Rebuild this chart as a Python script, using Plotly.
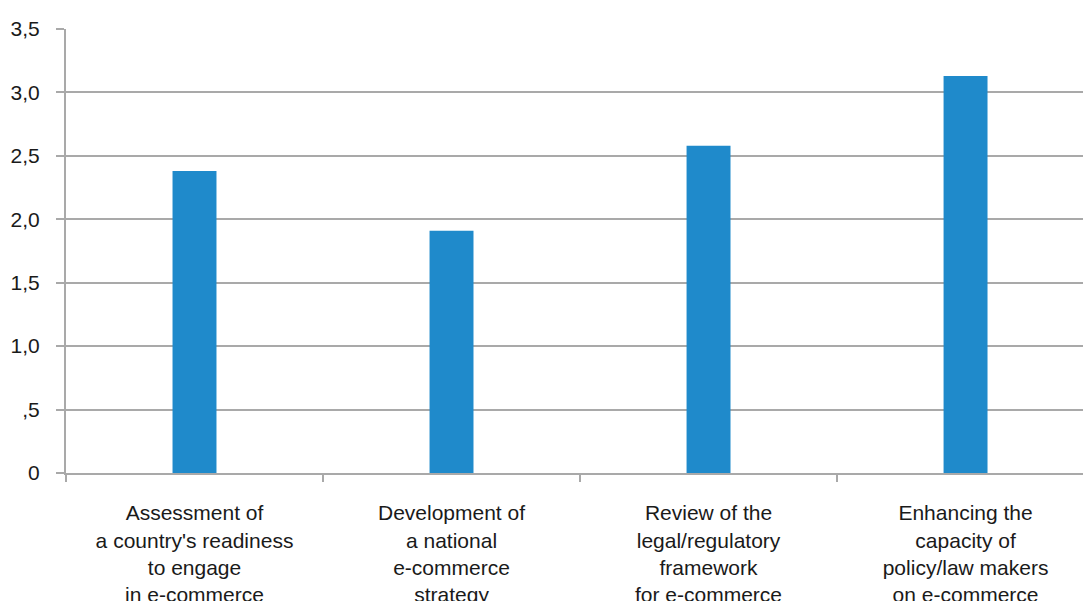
import plotly.graph_objects as go

# Capacity-building areas and their mean scores
categories = [
    "Assessment of<br>a country's readiness<br>to engage<br>in e-commerce",
    "Development of<br>a national<br>e-commerce<br>strategy",
    "Review of the<br>legal/regulatory<br>framework<br>for e-commerce",
    "Enhancing the<br>capacity of<br>policy/law makers<br>on e-commerce",
]
scores = [2.38, 1.91, 2.58, 3.13]

y_tickvals = [0, 0.5, 1.0, 1.5, 2.0, 2.5, 3.0, 3.5]
y_ticktext = ["0", ",5", "1,0", "1,5", "2,0", "2,5", "3,0", "3,5"]

BAR_COLOR = "#1f8acb"
GRID_COLOR = "#a9a9a9"
FONT = "Liberation Sans, Arial, Helvetica, sans-serif"

fig = go.Figure(
    go.Bar(
        x=categories,
        y=scores,
        marker=dict(color=BAR_COLOR, line=dict(width=0)),
        hoverinfo="skip",
    )
)

fig.update_layout(
    width=1083,
    height=601,
    margin=dict(l=66, r=0, t=29, b=128, autoexpand=False),
    paper_bgcolor="white",
    plot_bgcolor="white",
    bargap=0.829,
    showlegend=False,
    font=dict(family=FONT, size=21, color="#1a1a1a"),
)

fig.update_xaxes(
    type="category",
    range=[-0.5, 3.457],
    showgrid=False,
    zeroline=False,
    showline=True,
    linecolor=GRID_COLOR,
    linewidth=2,
    ticks="outside",
    tickson="boundaries",
    ticklen=7,
    tickwidth=2,
    tickcolor=GRID_COLOR,
    ticklabelstandoff=20,
    automargin=False,
    tickangle=0,
)

fig.update_yaxes(
    range=[0, 3.5],
    tickmode="array",
    tickvals=y_tickvals,
    ticktext=y_ticktext,
    showgrid=True,
    gridcolor=GRID_COLOR,
    gridwidth=2,
    zeroline=False,
    showline=True,
    linecolor=GRID_COLOR,
    linewidth=2,
    ticks="outside",
    ticklen=8,
    tickwidth=2,
    tickcolor=GRID_COLOR,
    ticklabelstandoff=12,
    automargin=False,
)

fig.write_html("out.html")
